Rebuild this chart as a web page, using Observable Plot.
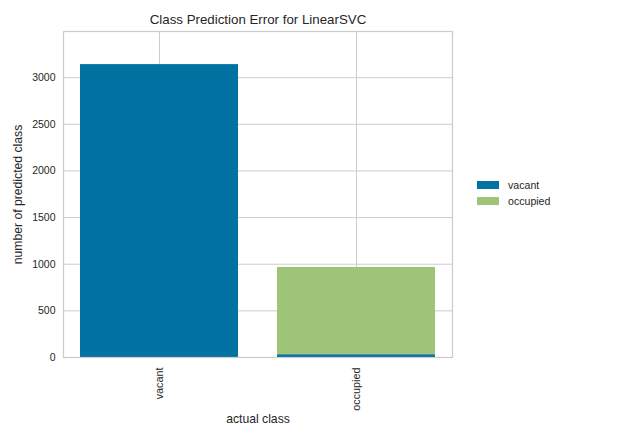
<!DOCTYPE html>
<html>
<head>
<meta charset="utf-8">
<script src="https://cdn.jsdelivr.net/npm/d3@7"></script>
<script src="https://cdn.jsdelivr.net/npm/@observablehq/plot@0.6"></script>
<style>
  html, body { margin: 0; padding: 0; background: #fff; }
  svg { font-family: "Liberation Sans", Arial, sans-serif; }
</style>
</head>
<body>
<div id="chart"></div>
<script>
const actualClasses = ["vacant", "occupied"];
const predictedClasses = ["vacant", "occupied"];
// counts[predicted][actual]
const predictedVacant = [3140, 30];
const predictedOccupied = [0, 935];
const yTicks = [0, 500, 1000, 1500, 2000, 2500, 3000];
const palette = ["#0272a2", "#9fc377"];

const rows = [];
predictedClasses.forEach((p, pi) => {
  const vals = pi === 0 ? predictedVacant : predictedOccupied;
  actualClasses.forEach((a, ai) => rows.push({actual: a, predicted: p, count: vals[ai]}));
});

const textColor = "#262626";
const gridColor = "#cccccc";

const plot = Plot.plot({
  width: 640,
  height: 440,
  marginLeft: 63,
  marginRight: 188,
  marginTop: 31,
  marginBottom: 83,
  style: {fontFamily: "'Liberation Sans', Arial, sans-serif", color: textColor, background: "#fff"},
  x: {domain: actualClasses, paddingInner: 0.2, paddingOuter: 0.087},
  y: {domain: [0, 3495]},
  color: {domain: predictedClasses, range: palette},
  marks: [
    Plot.gridY(yTicks, {stroke: gridColor, strokeOpacity: 1, strokeWidth: 1}),
    Plot.gridX(actualClasses, {stroke: gridColor, strokeOpacity: 1, strokeWidth: 1}),
    Plot.barY(rows, {x: "actual", y: "count", fill: "predicted", order: predictedClasses}),
    Plot.frame({stroke: gridColor, strokeWidth: 1.25}),
    Plot.axisY(yTicks, {tickSize: 0, tickPadding: 8, tickFormat: d => String(d), label: null, fontSize: 10.5, fill: textColor}),
    Plot.axisX({tickSize: 0, tickPadding: 10, tickRotate: -90, label: null, fontSize: 10.8, fill: textColor}),
    Plot.text(["actual class"], {frameAnchor: "bottom", dy: 62, lineAnchor: "middle", textAnchor: "middle", fontSize: 12.2, fill: textColor}),
    Plot.text(["number of predicted class"], {frameAnchor: "left", dx: -45, rotate: -90, lineAnchor: "middle", textAnchor: "middle", fontSize: 12.2, fill: textColor}),
    Plot.text(["Class Prediction Error for LinearSVC"], {frameAnchor: "top", dy: -12, lineAnchor: "middle", textAnchor: "middle", fontSize: 13.3, fill: textColor})
  ]
});

// legend on the right
const svg = d3.select(plot);
const color = plot.scale("color");
const lg = svg.append("g").attr("font-size", 10.6).attr("fill", textColor).attr("text-anchor", "start");
predictedClasses.forEach((c, i) => {
  const y = 185 + i * 16;
  lg.append("rect").attr("x", 477).attr("y", y - 4).attr("width", 22).attr("height", 8)
    .attr("fill", palette[color.domain.indexOf(c)]);
  lg.append("text").attr("x", 508).attr("y", y).attr("dy", "0.35em").text(c);
});

document.getElementById("chart").appendChild(plot);
</script>
</body>
</html>
